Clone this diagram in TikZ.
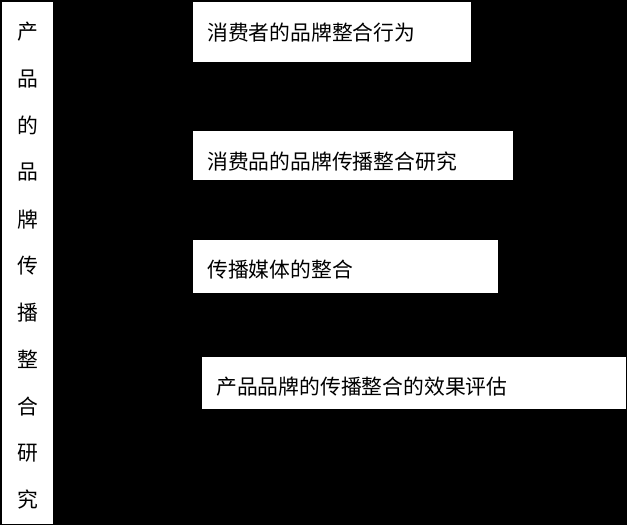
\documentclass[tikz,border=0pt]{standalone}
\usepackage{fontspec}
\newfontfamily\cjk{Noto Sans CJK SC}
\usetikzlibrary{positioning}

\begin{document}
\begin{tikzpicture}[x=0.75pt,y=-0.75pt,
  box/.style={fill=white,draw=none,anchor=north west,inner sep=0pt},
  txt/.style={anchor=west,inner sep=0pt,font=\cjk\fontsize{15.6}{18}\selectfont},
  vch/.style={inner sep=0pt,font=\cjk\fontsize{15.6}{18}\selectfont}]
  \fill[black] (0,0) rectangle (627,525);
  \useasboundingbox (0,0) rectangle (627,525);
  % left column
  \node[box,minimum width=38.25pt,minimum height=391.5pt] (topic) at (2,2) {};
  \foreach \c [count=\i from 0] in {产,品,的,品,牌,传,播,整,合,研,究}
    \node[vch] (ch\i) at (27.5,{32+46.8*\i}) {\c};
  % right boxes
  \node[box,minimum width=208.5pt,minimum height=45pt] (b1) at (193,2) {};
  \node[box,minimum width=240pt,minimum height=36.75pt] (b2) at (193,131) {};
  \node[box,minimum width=228.75pt,minimum height=39.75pt] (b3) at (193,240) {};
  \node[box,minimum width=318pt,minimum height=39pt] (b4) at (202,357) {};
  \node[txt] (t1) at (207,33) {消费者的品牌整合行为};
  \node[txt] (t2) at (207,162) {消费品的品牌传播整合研究};
  \node[txt] (t3) at (207,270) {传播媒体的整合};
  \node[txt] (t4) at (216,387) {产品品牌的传播整合的效果评估};
\end{tikzpicture}
\end{document}
